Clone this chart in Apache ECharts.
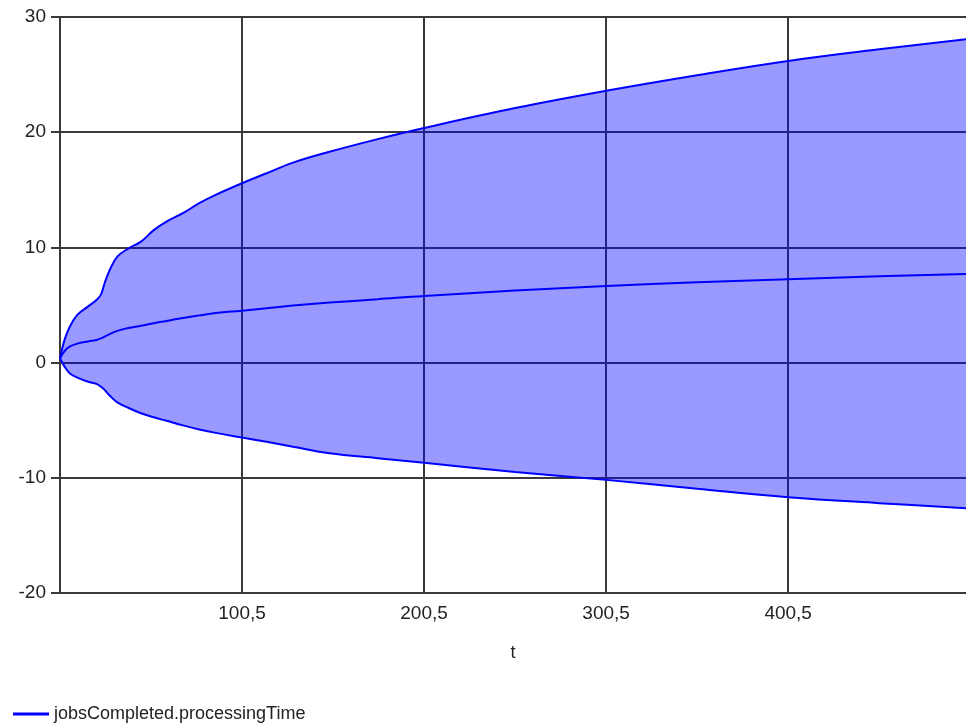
<!DOCTYPE html>
<html>
<head>
<meta charset="utf-8">
<script src="https://cdn.jsdelivr.net/npm/echarts@6/dist/echarts.min.js"></script>
<style>html,body{margin:0;padding:0;background:#fff;}#chart{width:966px;height:727px;}</style>
</head>
<body>
<div id="chart"></div>
<script>
const tValues = [0.5, 3, 6, 10, 16, 20.5, 23, 25, 28, 32, 38, 45, 52, 59, 68, 77, 86, 100.5, 114, 128.5, 148.5, 175, 200.5, 250.5, 300.5, 350.5, 400.5, 450.5, 498.2];
const upperValues = [0.35, 1.97, 3.15, 4.14, 4.88, 5.44, 5.9, 6.89, 8.1, 9.2, 9.9, 10.5, 11.5, 12.24, 12.97, 13.84, 14.56, 15.57, 16.44, 17.36, 18.3, 19.4, 20.37, 22.1, 23.6, 24.95, 26.19, 27.2, 28.07];
const meanValues = [0.35, 1.0, 1.4, 1.65, 1.84, 1.97, 2.1, 2.25, 2.5, 2.75, 3.0, 3.2, 3.42, 3.62, 3.88, 4.1, 4.3, 4.51, 4.72, 4.95, 5.21, 5.5, 5.79, 6.25, 6.65, 6.97, 7.24, 7.5, 7.7];
const lowerValues = [0.35, -0.35, -0.95, -1.3, -1.66, -1.85, -2.1, -2.37, -2.9, -3.45, -3.92, -4.4, -4.75, -5.05, -5.45, -5.8, -6.1, -6.51, -6.88, -7.3, -7.87, -8.3, -8.7, -9.5, -10.18, -10.95, -11.68, -12.2, -12.64];
const seriesName = 'jobsCompleted.processingTime';
const xAxisName = 't';

const zip = (vals) => tValues.map((t, i) => [t, vals[i]]);
// value first so that the stack is applied to the y dimension
const zipVT = (vals) => tValues.map((t, i) => [vals[i], t]);
const bandDiff = upperValues.map((u, i) => u - lowerValues[i]);
const SMOOTH = 0.4;
const blue = '#0000ff';
const gridColor = '#3a3a3a';
const font = '"Liberation Sans", Arial, sans-serif';

const chart = echarts.init(document.getElementById('chart'), null, {renderer: 'canvas'});
chart.setOption({
  animation: false,
  backgroundColor: '#ffffff',
  grid: {left: 60, top: 17, right: 0, bottom: 134, containLabel: false},
  legend: {
    data: [{name: seriesName, icon: 'rect'}],
    left: 8, top: 700,
    itemWidth: 36, itemHeight: 3, itemGap: 10,
    textStyle: {fontFamily: font, fontSize: 18, color: '#222'}
  },
  xAxis: {
    type: 'value', min: 0.5, max: 498.2, interval: 100,
    name: xAxisName, nameLocation: 'middle', nameGap: 51,
    nameTextStyle: {fontFamily: font, fontSize: 18, color: '#222'},
    axisLine: {show: true, lineStyle: {color: gridColor, width: 2}},
    axisTick: {show: true, length: 7, lineStyle: {color: gridColor, width: 2}},
    axisLabel: {showMinLabel: false, showMaxLabel: false, margin: 11, fontFamily: font, fontSize: 19, color: '#222',
      formatter: v => String(v).replace('.', ',')},
    splitLine: {show: true, showMaxLine: false, lineStyle: {color: gridColor, width: 2}}
  },
  yAxis: {
    type: 'value', min: -20, max: 30, interval: 10,
    axisLine: {show: true, lineStyle: {color: gridColor, width: 2}},
    axisTick: {show: true, length: 9, lineStyle: {color: gridColor, width: 2}},
    axisLabel: {margin: 14, fontFamily: font, fontSize: 19, color: '#222'},
    splitLine: {show: true, lineStyle: {color: gridColor, width: 2}}
  },
  series: [
    {name: 'base', type: 'line', stack: 'band', stackStrategy: 'all', dimensions: ['v', 't'], encode: {x: 1, y: 0},
      data: zipVT(lowerValues), smooth: SMOOTH, symbol: 'none', silent: true, lineStyle: {opacity: 0}},
    {name: 'band', type: 'line', stack: 'band', stackStrategy: 'all', dimensions: ['v', 't'], encode: {x: 1, y: 0},
      data: zipVT(bandDiff), smooth: SMOOTH, symbol: 'none', silent: true,
      lineStyle: {opacity: 0}, areaStyle: {color: 'rgba(0,0,255,0.4)', opacity: 1}},
    {name: 'upper', type: 'line', data: zip(upperValues), smooth: SMOOTH, symbol: 'none', lineStyle: {color: blue, width: 2}, itemStyle: {color: blue}},
    {name: 'lower', type: 'line', data: zip(lowerValues), smooth: SMOOTH, symbol: 'none', lineStyle: {color: blue, width: 2}, itemStyle: {color: blue}},
    {name: seriesName, type: 'line', data: zip(meanValues), smooth: SMOOTH, symbol: 'none', lineStyle: {color: blue, width: 2}, itemStyle: {color: blue}}
  ]
});
</script>
</body>
</html>
